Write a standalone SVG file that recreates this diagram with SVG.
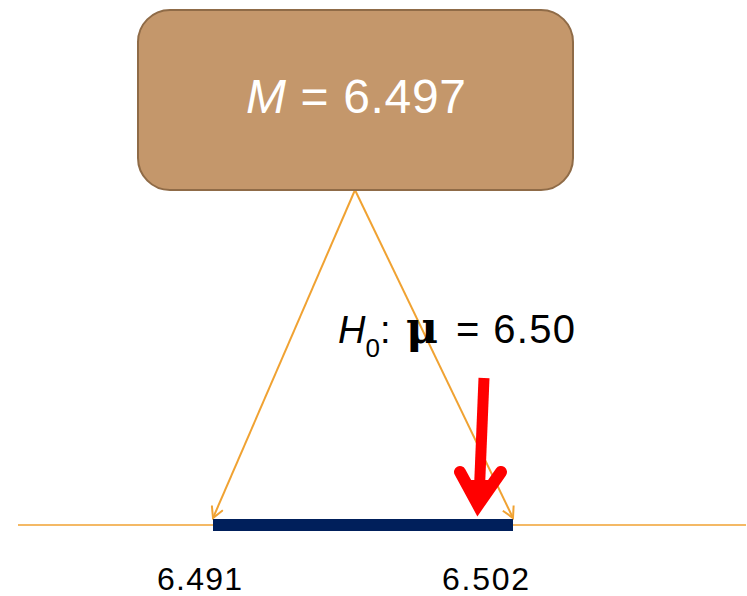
<svg xmlns="http://www.w3.org/2000/svg" width="747" height="596" viewBox="0 0 747 596">
<style>
.lbl{font-family:"Liberation Sans",Arial,sans-serif;fill:#000}
.conn{stroke:#F0A232;stroke-width:2;fill:none}
</style>
<defs>
<marker id="open" markerWidth="14" markerHeight="14" refX="12" refY="7" orient="auto" markerUnits="userSpaceOnUse">
<path d="M1,1 L12,7 L1,13" fill="none" stroke="#F0A232" stroke-width="2"/>
</marker>
</defs>
<rect width="747" height="596" fill="#fff"/>
<g id="axis">
<line x1="18" y1="525" x2="746" y2="525" stroke="#F0A232" stroke-width="1.5"/>
<rect x="213" y="519" width="300" height="12" fill="#001F5B"/>
</g>
<g id="connectors">
<line class="conn" x1="355" y1="190" x2="213" y2="518" marker-end="url(#open)"/>
<line class="conn" x1="355" y1="190" x2="513" y2="518" marker-end="url(#open)"/>
</g>
<g id="mean">
<rect x="138" y="10" width="435" height="180" rx="32" fill="#C4976B" stroke="#8F6B47" stroke-width="2"/>
<text x="246" y="113" font-family="'Liberation Sans',Arial,sans-serif" font-size="48" fill="#fff" textLength="220" lengthAdjust="spacing"><tspan font-style="italic">M</tspan> = 6.497</text>
</g>
<g id="hypothesis">
<text class="lbl" x="338" y="343" font-size="38"><tspan font-style="italic">H</tspan><tspan font-size="26" dy="14">0</tspan><tspan dy="-14">:</tspan></text>
<text x="406" y="343" font-size="44" font-weight="bold" font-family="'DejaVu Serif',serif">μ</text>
<text class="lbl" x="456" y="343" font-size="40" textLength="119" lengthAdjust="spacing">= 6.50</text>
</g>
<g id="red-arrow" stroke="#FF0000" fill="none">
<line x1="484" y1="378" x2="479" y2="500" stroke-width="11"/>
<path d="M460,472 L478,505 L501,472" stroke-width="12" stroke-linecap="round" stroke-linejoin="miter"/>
<path d="M466,480 L478,503 L491,480 Z" fill="#FF0000" stroke="none"/>
</g>
<g id="labels">
<text class="lbl" x="157" y="590" font-size="32" textLength="85" lengthAdjust="spacing">6.491</text>
<text class="lbl" x="442" y="590" font-size="32" textLength="87" lengthAdjust="spacing">6.502</text>
</g>
</svg>
